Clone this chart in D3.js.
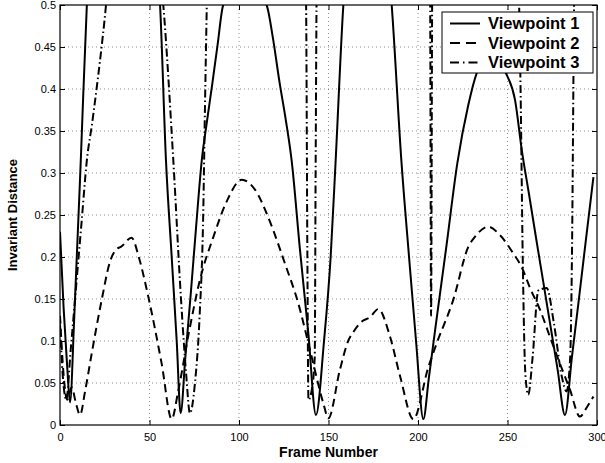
<!DOCTYPE html>
<html><head><meta charset="utf-8">
<script src="https://cdn.jsdelivr.net/npm/d3@7"></script>
<style>
html,body{margin:0;padding:0;background:#fff;}
svg{display:block;font-family:"Liberation Sans",Arial,sans-serif;}
</style></head>
<body><svg id="chart" width="605" height="463"></svg>
<script>
// ---- data ----
const xTicks = [0, 50, 100, 150, 200, 250, 300];
const yTicks = [0, 0.05, 0.1, 0.15, 0.2, 0.25, 0.3, 0.35, 0.4, 0.45, 0.5];
const seriesNames = ["Viewpoint 1", "Viewpoint 2", "Viewpoint 3"];

const frames1 = [0,2,4,5.6,8,11.7,15,20,50,55.9,59.2,62.4,65.2,67.4,70,73,76,79.2,82,85,88,91.2,103,115.4,119,122.5,126,129.4,134,138.7,143,147.5,151.2,154,158.3,165,180,185.3,190.7,195,198.9,203,206,210,216,222,228,232.8,240,246,249.5,254.2,258,262,266,270,274,278,282.1,286,290,294,298];
const values1 = [0.23,0.14,0.07,0.027,0.13,0.32,0.5,0.62,0.62,0.5,0.315,0.2,0.1,0.014,0.08,0.155,0.235,0.315,0.36,0.405,0.452,0.5,0.53,0.5,0.46,0.41,0.365,0.315,0.21,0.11,0.012,0.1,0.2,0.315,0.5,0.62,0.62,0.5,0.315,0.2,0.1,0.007,0.055,0.12,0.215,0.312,0.38,0.419,0.44,0.43,0.417,0.387,0.327,0.275,0.222,0.17,0.118,0.066,0.012,0.081,0.152,0.224,0.295];

const frames2 = [0,2,4,6.5,9,11.2,14,17.7,23.3,28,32,34,40,44,49.3,56.8,62.4,66,72,78.2,85.7,93.1,101.5,109,117.3,125.7,133.1,139.7,147.1,149.9,156.4,161,164,168.5,173,177.8,184.4,190,197.4,205.8,210.4,219.7,228.1,231.8,239.3,245.8,253.3,257.9,262.6,268.2,273.7,279.3,284.9,290.5,294,298];
const values2 = [0.13,0.06,0.03,0.045,0.025,0.012,0.04,0.085,0.149,0.195,0.21,0.212,0.223,0.2,0.153,0.073,0.007,0.04,0.11,0.173,0.224,0.266,0.292,0.28,0.242,0.192,0.145,0.089,0.026,0.008,0.066,0.1,0.111,0.123,0.128,0.138,0.105,0.058,0.007,0.069,0.097,0.149,0.212,0.224,0.236,0.226,0.204,0.188,0.163,0.137,0.105,0.073,0.042,0.01,0.02,0.034];

const frames3 = [0,1.5,3.5,6,9,12,15,18,21,23.5,25.7,28,55,57.7,63.3,67.6,70.5,72.6,75.4,78,80,81,82,83,136.5,137.5,138.2,138.8,140.5,142.3,142.8,143.3,144,206,206.8,207.3,207.9,208.5,255,256.5,257.3,258.5,260,261.6,264,267.2,271.9,276,280.3,283,285,286,287.2,288,298];
const values3 = [0.12,0.06,0.03,0.09,0.165,0.24,0.315,0.36,0.41,0.455,0.5,0.56,0.56,0.5,0.315,0.15,0.06,0.014,0.05,0.13,0.25,0.38,0.5,0.62,0.62,0.5,0.2,0.03,0.04,0.08,0.3,0.5,0.62,0.62,0.5,0.13,0.5,0.62,0.62,0.5,0.4,0.2,0.06,0.036,0.08,0.16,0.163,0.12,0.058,0.04,0.08,0.2,0.5,0.62,0.62];

// ---- layout ----
const svg = d3.select("#chart");
const L = 60, R = 597, T = 5, B = 425;
const x = d3.scaleLinear().domain([0, 300]).range([L, R]);
const y = d3.scaleLinear().domain([0, 0.5]).range([B, T]);

svg.append("rect").attr("width",605).attr("height",463).attr("fill","#fff");

// grid
const grid = svg.append("g");
grid.selectAll("line.gx").data(xTicks.slice(1,-1)).enter().append("line")
  .attr("x1",d=>x(d)).attr("x2",d=>x(d)).attr("y1",T).attr("y2",B)
  .attr("stroke","#444").attr("stroke-width",0.6).attr("stroke-dasharray","1,3");
grid.selectAll("line.gy").data(yTicks.slice(1,-1)).enter().append("line")
  .attr("y1",d=>y(d)).attr("y2",d=>y(d)).attr("x1",L).attr("x2",R)
  .attr("stroke","#444").attr("stroke-width",0.6).attr("stroke-dasharray","1,3");

// clip
svg.append("clipPath").attr("id","clip").append("rect")
  .attr("x",L).attr("y",T).attr("width",R-L).attr("height",B-T);

const line = d3.line().x(d=>x(d[0])).y(d=>y(d[1])).curve(d3.curveMonotoneX);
const series = [
  {f:frames1, v:values1, dash:null},
  {f:frames2, v:values2, dash:"8,5"},
  {f:frames3, v:values3, dash:"8,3,1.5,3"}
];
const lg = svg.append("g").attr("clip-path","url(#clip)");
series.forEach(s=>{
  const pts = s.f.map((f,i)=>[f, s.v[i]]);
  lg.append("path").attr("d", line(pts)).attr("fill","none")
    .attr("stroke","#000").attr("stroke-width",2)
    .attr("stroke-dasharray", s.dash);
});

// axes (inward ticks on all sides)
const tickLen = 5;
const axB = d3.axisBottom(x).tickValues(xTicks).tickSize(-tickLen).tickPadding(8).tickFormat(d3.format("d"));
const axT = d3.axisTop(x).tickValues(xTicks).tickSize(-tickLen).tickFormat("");
const axL = d3.axisLeft(y).tickValues(yTicks).tickSize(-tickLen).tickPadding(4).tickFormat(d=>d3.format("")(+d.toFixed(2)));
const axR = d3.axisRight(y).tickValues(yTicks).tickSize(-tickLen).tickFormat("");
[[axB,`translate(0,${B})`],[axT,`translate(0,${T})`],[axL,`translate(${L},0)`],[axR,`translate(${R},0)`]].forEach(([a,tr])=>{
  const g = svg.append("g").attr("transform",tr).call(a);
  g.select(".domain").remove();
  g.selectAll("line").attr("stroke","#000").attr("stroke-width",1);
  g.selectAll("text").attr("font-size","11px").attr("fill","#000")
    .attr("font-family","'Liberation Sans',Arial,sans-serif");
});
svg.append("rect").attr("x",L).attr("y",T).attr("width",R-L).attr("height",B-T)
  .attr("fill","none").attr("stroke","#000").attr("stroke-width",1.2);

// axis labels
svg.append("text").attr("x",(L+R)/2).attr("y",456.5).attr("text-anchor","middle")
  .attr("font-size","14px").attr("font-weight","bold").text("Frame Number");
svg.append("text").attr("transform",`translate(17,${(T+B)/2}) rotate(-90)`)
  .attr("text-anchor","middle").attr("font-size","13px").attr("font-weight","bold").text("Invariant Distance");

// legend
const lgX = 442, lgY = 12, lgW = 151, lgH = 61;
const leg = svg.append("g");
leg.append("rect").attr("x",lgX).attr("y",lgY).attr("width",lgW).attr("height",lgH)
  .attr("fill","#fff").attr("stroke","#000").attr("stroke-width",1);
const rowY = [23.5, 43, 62.5];
series.forEach((s,i)=>{
  leg.append("line").attr("x1",450).attr("x2",480).attr("y1",rowY[i]).attr("y2",rowY[i])
    .attr("stroke","#000").attr("stroke-width",2).attr("stroke-dasharray", i===1?"10,6": i===2?"9,4,1.5,4":null);
  leg.append("text").attr("x",488).attr("y",rowY[i]).attr("dy","0.36em")
    .attr("font-size","16.5px").attr("font-weight","bold").text(seriesNames[i]);
});
</script></body></html>
